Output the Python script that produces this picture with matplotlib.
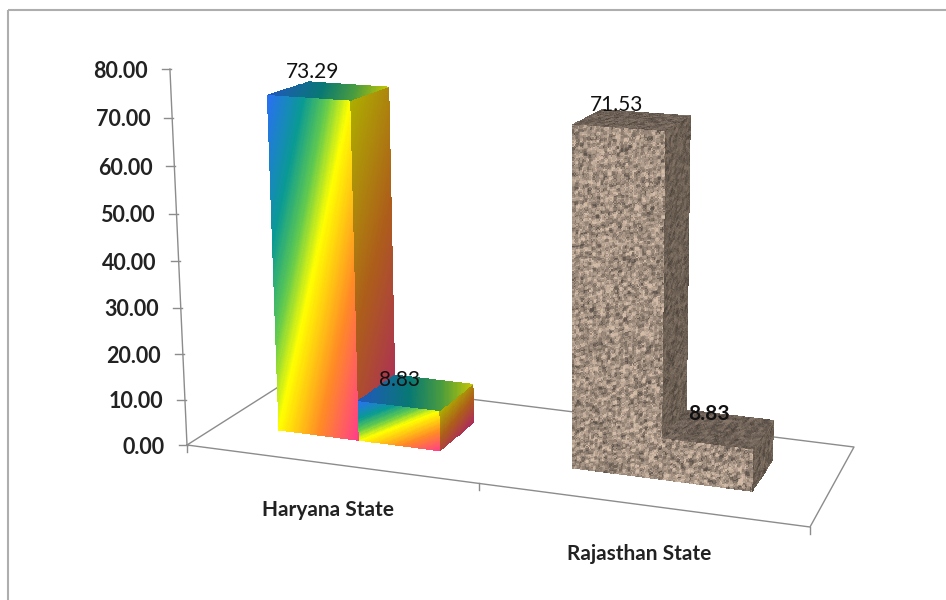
import numpy as np
import matplotlib
matplotlib.use("Agg")
import matplotlib.pyplot as plt
from matplotlib.colors import LinearSegmentedColormap
from matplotlib.patches import Rectangle

### Data
states = ["Haryana State", "Rajasthan State"]
series_a = [73.29, 71.53]
series_b = [8.83, 8.83]
axis_ticks = [0, 10, 20, 30, 40, 50, 60, 70, 80]

plt.rcParams['font.family'] = ['Lato', 'DejaVu Sans']

### Camera: floor corners on the picture, vertical vanishing point, top of the value axis
floor_world = [(0, 0), (2, 0), (2, 1), (0, 1)]
floor_px = [(187, 445), (810, 527), (854, 447), (294, 377)]
vanish = (571, 8900)
axis_top_y = 69
height_gain = 0.03     # the picture's columns grow a little towards the right

A, b = [], []
for (X, Y), (px, py) in zip(floor_world, floor_px):
    A.append([X, Y, 1, 0, 0, 0, -px * X, -px * Y])
    A.append([0, 0, 0, X, Y, 1, -py * X, -py * Y])
    b += [px, py]
h = np.linalg.solve(np.array(A, float), np.array(b, float))
H = np.append(h, 1).reshape(3, 3)
c = (axis_top_y - H[1, 2]) / (axis_ticks[-1] * (vanish[1] - axis_top_y))
Zcol = c * np.array([vanish[0], vanish[1], 1.0])


def project(X, Y, Z):
    """world (category, depth, value) to picture pixels"""
    X, Y, Z = np.asarray(X, float), np.asarray(Y, float), np.asarray(Z, float)
    Z = Z * (1 + height_gain * X)
    px = H[0, 0] * X + H[0, 1] * Y + H[0, 2] + Zcol[0] * Z
    py = H[1, 0] * X + H[1, 1] * Y + H[1, 2] + Zcol[1] * Z
    w = H[2, 0] * X + H[2, 1] * Y + H[2, 2] + Zcol[2] * Z
    return px / w, py / w


### Fills
rainbow = LinearSegmentedColormap.from_list("rainbow3d", [
    (0.0, "#2a6ff5"), (0.22, "#0a9a94"), (0.36, "#5ec850"), (0.5, "#ffff00"),
    (0.75, "#ff8a26"), (1.0, "#ff3c8c")])
rng = np.random.default_rng(7)


def granite(shape, base, amp=0.17):
    n = rng.normal(size=(shape[0] + 2, shape[1] + 2))
    n = (n[:-2, :-2] + n[1:-1, :-2] + n[:-2, 1:-1] + n[1:-1, 1:-1] + n[2:, 1:-1] + n[1:-1, 2:]) / 2.45
    n = np.clip(n, -2.4, 1.8)[..., None]
    return np.clip(np.array(base) * (1 + amp * n), 0, 1)


def quad(ax, u, v, corner, colors):
    """draw colours on a grid between two edge directions, through project()"""
    uu, vv = np.meshgrid(u, v)
    px, py = project(*corner(uu, vv))
    ax.pcolormesh(px, py, colors, shading="flat", antialiased=False, linewidth=0, zorder=2.5)


def box(ax, x0, x1, y0, y1, top, style):
    nh = max(int(top * 3.6), 24)
    hs = np.linspace(0, 1, nh + 1)
    ss = np.linspace(0, 1, 71)
    dd = np.linspace(0, 1, 31)
    sc = (ss[:-1] + ss[1:]) / 2
    hc = (hs[:-1] + hs[1:]) / 2
    dc = (dd[:-1] + dd[1:]) / 2
    if style == "rainbow":
        S, Hh = np.meshgrid(sc, hc)
        front = rainbow((S + 1 - Hh) / 2)[..., :3]
        D, Hh2 = np.meshgrid(dc, hc)
        side = rainbow(0.5 + 0.5 * (0.25 * D + 0.75 * (1 - Hh2)))[..., :3] * 0.68
        S2, D2 = np.meshgrid(sc, dc)
        upper = rainbow(0.5 * (0.7 * S2 + 0.3 * D2))[..., :3] * 0.78
    else:
        front = granite((nh, 70), (0.635, 0.565, 0.505))
        side = granite((nh, 30), (0.42, 0.37, 0.325), 0.11)
        upper = granite((30, 70), (0.43, 0.38, 0.34), 0.12)
    quad(ax, dd, hs, lambda d, t: (x1 + 0 * d, y0 + (y1 - y0) * d, top * t), side)
    quad(ax, ss, dd, lambda s, d: (x0 + (x1 - x0) * s, y0 + (y1 - y0) * d, top + 0 * s), upper)
    quad(ax, ss, hs, lambda s, t: (x0 + (x1 - x0) * s, y0 + 0 * s, top * t), front)


fig = plt.figure(figsize=(9.46, 6), dpi=100)
ax = fig.add_axes([0, 0, 1, 1])
ax.set_xlim(0, 946)
ax.set_ylim(600, 0)
ax.axis("off")

### Chart frame, runs off the right and bottom of the picture
ax.add_patch(Rectangle((8, 10), 1000, 640, fill=False, ec="#aeaeae", lw=1.5, zorder=1))

### Floor and axes
line_c = "#8c8c8c"
fx, fy = project([0, 2, 2, 0, 0], [0, 0, 1, 1, 0], [0, 0, 0, 0, 0])
ax.plot(fx, fy, color=line_c, lw=1, zorder=1)
for X in [0, 0.962, 2]:
    px, py = project(X, 0, 0)
    ax.plot([px, px], [py, py + 7], color=line_c, lw=1, zorder=1)

ax_x, ax_y = project([0, 0], [0, 0], [0, axis_ticks[-1]])
ax.plot(ax_x, ax_y, color=line_c, lw=1, zorder=1)
for t in axis_ticks:
    px, py = project(0, 0, t)
    ax.plot([px - 8, px + 1], [py, py], color=line_c, lw=1, zorder=1)
    ax.text(px - 22, py + 2, f"{t:.2f}", ha="right", va="center", fontsize=15.5, color="#222222", fontweight="bold")

### Bars
starts = [0.197, 1.187]
widths = [0.275, 0.292]
d0, d1 = 0.3, 0.7
styles = ["rainbow", "granite"]
label_off = [[(-17, -19), (-17, -12)], [(-16, -15), (-10, -15)]]
for i, state in enumerate(states):
    x0 = starts[i]
    w = widths[i]
    box(ax, x0, x0 + w, d0, d1, series_a[i], styles[i])
    box(ax, x0 + w, x0 + 2 * w, d0, d1, series_b[i], styles[i])
    for j, (xa, val) in enumerate([(x0, series_a[i]), (x0 + w, series_b[i])]):
        px, py = project(xa + w / 2, (d0 + d1) / 2, val)
        ox, oy = label_off[i][j]
        bold = i == 1 and j == 1
        ax.text(px + ox, py + oy, f"{val:.2f}", ha="center", va="center", fontsize=15, color="#111111",
                fontweight="bold" if bold else "normal", zorder=4)

### Category labels
cat_off = [45, 48]
for i, state in enumerate(states):
    px, py = project(i + 0.5, 0, 0)
    ax.text(px - 9, py + cat_off[i], state, ha="center", va="center", fontsize=15, color="#222222", fontweight="bold")

fig.savefig("out.png", dpi=100)
